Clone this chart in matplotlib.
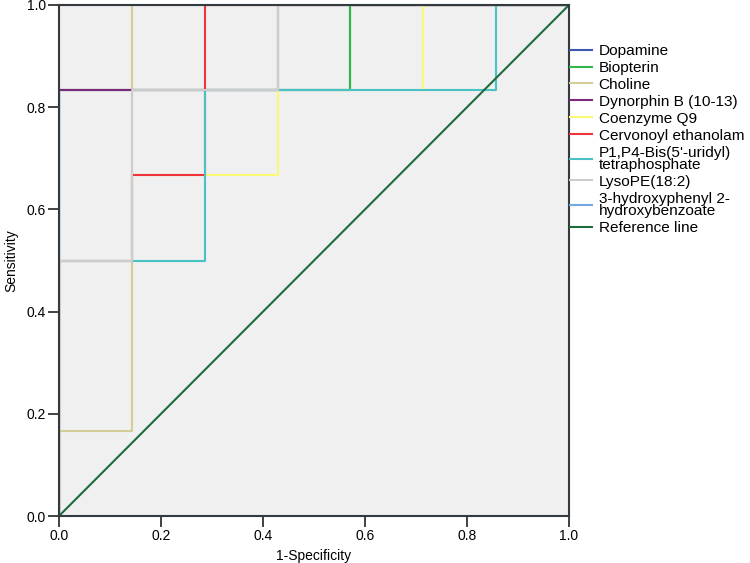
import matplotlib
matplotlib.use('Agg')
import matplotlib.pyplot as plt

plt.rcParams['font.family'] = ['Liberation Sans', 'DejaVu Sans']

# ROC step points (1-specificity, sensitivity), 7 negatives / 6 positives
names = ['Dopamine', 'Biopterin', 'Choline', 'Dynorphin B (10-13)', 'Coenzyme Q9',
         'Cervonoyl ethanolam', "P1,P4-Bis(5'-uridyl)\ntetraphosphate", 'LysoPE(18:2)',
         '3-hydroxyphenyl 2-\nhydroxybenzoate']
colors = ['#3E58AC', '#2EB848', '#D3CE97', '#7C287D', '#FBF873',
          '#EF3338', '#48C2C5', '#CCCCCC', '#72A8E0']

fpr = [
    [0, 0, 0.571, 0.571, 1],
    [0, 0, 0.571, 0.571, 1],
    [0, 0, 0.143, 0.143, 1],
    [0, 0, 0.429, 0.429, 1],
    [0, 0, 0.143, 0.143, 0.286, 0.286, 0.429, 0.429, 0.714, 0.714, 1],
    [0, 0, 0.143, 0.143, 0.286, 0.286, 1],
    [0, 0, 0.286, 0.286, 0.857, 0.857, 1],
    [0, 0, 0.143, 0.143, 0.429, 0.429, 1],
    [0, 0, 1],
]
tpr = [
    [0, 0.833, 0.833, 1, 1],
    [0, 0.833, 0.833, 1, 1],
    [0, 0.167, 0.167, 1, 1],
    [0, 0.833, 0.833, 1, 1],
    [0, 0.5, 0.5, 0.667, 0.667, 0.667, 0.667, 0.833, 0.833, 1, 1],
    [0, 0.5, 0.5, 0.667, 0.667, 1, 1],
    [0, 0.5, 0.5, 0.833, 0.833, 1, 1],
    [0, 0.5, 0.5, 0.833, 0.833, 1, 1],
    [0, 1, 1],
]

fig = plt.figure(figsize=(7.5, 5.63), dpi=100)
ax = fig.add_axes([59 / 750, 1 - 516 / 563, 510 / 750, 511 / 563])
ax.set_facecolor('#F0F0F0')

for n, c, x, y in zip(names, colors, fpr, tpr):
    ax.plot(x, y, color=c, lw=1.5, label=n)
ax.plot([0, 1], [0, 1], color='#1E6B3C', lw=1.5, label='Reference line')

ax.set_xlim(0, 1)
ax.set_ylim(0, 1)
ticks = [0.0, 0.2, 0.4, 0.6, 0.8, 1.0]
ax.set_xticks(ticks)
ax.set_yticks(ticks)
ax.set_xticklabels(['%.1f' % t for t in ticks])
ax.set_yticklabels(['%.1f' % t for t in ticks])
ax.tick_params(direction='out', length=8, width=1.2, pad=1.5, labelsize=10, color='#222222')
for s in ax.spines.values():
    s.set_linewidth(1.5)
    s.set_color('#333A40')
ax.set_xlabel('1-Specificity', fontsize=10, labelpad=4)
ax.set_ylabel('Sensitivity', fontsize=10, labelpad=6)

leg = fig.legend(loc='upper left', bbox_to_anchor=(570 / 750, 1 - 44 / 563),
                 frameon=False, fontsize=11.1, handlelength=1.45, handletextpad=0.4,
                 labelspacing=0.19, borderpad=0, borderaxespad=0)
for t in leg.get_texts():
    t.set_linespacing(0.85)

fig.savefig('out.png', dpi=100)
